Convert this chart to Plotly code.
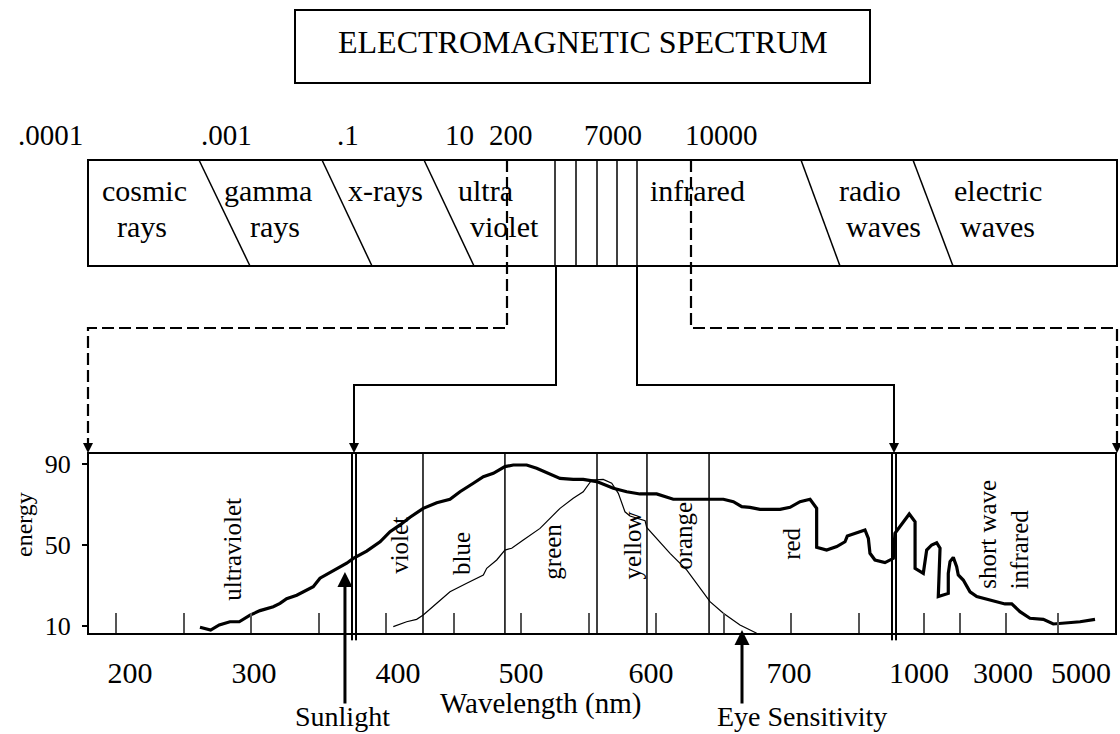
import plotly.graph_objects as go

W, H = 1120, 734
FONT = "Liberation Serif, Times New Roman, serif"

# ---------------- data ----------------
sun_wl = [262.2, 270.1, 276.5, 284.4, 291.3, 299.3, 306.7, 316.5, 321.5, 326.4,
          333.9, 341.3, 346.1, 351.1, 361.0, 370.9, 375.8, 385.7, 395.6, 403.0,
          410.4, 417.8, 427.6, 437.6, 447.4, 454.8, 464.7, 472.1, 479.5, 488.1,
          494.3, 504.2, 511.6, 519.0, 528.9, 538.7, 546.1, 556.1, 568.4, 578.3,
          588.1, 600.5, 612.8, 627.6, 649.9, 657.3, 663.5, 669.6, 677.0, 691.9,
          699.3, 706.7, 714.1, 719.0, 719.0, 726.4, 733.9, 740.0, 741.7, 754.8,
          757.3, 758.5, 762.2, 769.6, 775.8, 777.0, 780.7, 787.6, 791.9, 791.9,
          798.0, 800.5, 804.2, 807.9, 810.4, 809.1, 816.5, 816.5, 817.8, 820.2,
          822.7, 823.9, 827.6, 832.6, 837.6, 845.0, 852.3, 858.5, 863.5, 869.6,
          877.0, 886.9, 894.3, 914.1, 925.2]
sun_energy = [9.4, 8.0, 10.5, 12.1, 12.1, 15.4, 17.6, 19.5, 21.2, 23.5,
              25.2, 27.8, 29.4, 33.6, 37.2, 41.0, 43.4, 47.0, 51.6, 56.6,
              59.9, 63.7, 68.1, 70.9, 72.6, 76.3, 80.5, 83.7, 85.4, 88.7,
              89.5, 89.5, 87.9, 85.9, 82.9, 82.4, 82.4, 81.3, 78.0, 76.3,
              75.2, 75.2, 72.6, 72.6, 72.6, 71.4, 68.9, 68.6, 67.6, 67.6,
              68.6, 71.4, 72.6, 68.1, 48.9, 47.5, 49.2, 51.6, 54.4, 57.4,
              53.3, 45.9, 42.6, 41.3, 43.4, 55.8, 59.0, 65.3, 61.5, 38.5,
              36.0, 47.5, 50.0, 51.1, 48.4, 24.5, 26.1, 36.0, 41.8, 43.9,
              39.3, 35.2, 32.7, 26.9, 24.5, 23.2, 21.7, 20.9, 20.9, 17.1,
              13.8, 13.3, 11.0, 12.1, 13.3]

eye_wl = [405.4, 415.3, 422.7, 427.6, 437.6, 447.4, 459.8, 472.1, 474.6, 482.0,
          488.1, 493.1, 501.7, 514.1, 528.9, 538.7, 546.1, 552.4, 560.9, 567.2,
          572.1, 577.0, 580.7, 591.9, 593.1, 600.5, 610.4, 622.7, 630.1, 640.0,
          649.9, 662.2, 674.6, 685.7]
eye_energy = [9.7, 12.1, 13.3, 15.4, 21.2, 26.9, 31.1, 35.2, 38.5, 42.6,
              47.5, 48.4, 52.5, 58.2, 68.1, 73.1, 76.3, 82.1, 82.4, 80.5,
              75.5, 66.4, 64.3, 62.0, 58.7, 53.3, 45.9, 37.7, 31.1, 22.0,
              16.3, 10.5, 6.4, 3.1]

band_names = ["ultraviolet", "violet", "blue", "green", "yellow", "orange", "red",
              "short wave", "infrared"]
band_label_wl = [285.7, 410.4, 456.1, 523.7, 582.7, 620.7, 700.5, 845.0, 869.1]
band_label_energy = [48.0, 49.6, 45.9, 46.7, 49.6, 54.5, 50.4, 55.4, 48.0]

band_edges = [427.4, 488.1, 556.3, 593.3, 639.3]
double_edges = [374.8, 377.8, 774.8, 777.8]

tick_wl = [200, 250, 300, 350, 400, 450, 500, 550, 600, 650, 700, 750,
           798.5, 825.2, 859.3, 897.8]
label_wl = [210.4, 302.2, 408.9, 500.0, 596.3, 698.5, 794.8, 857.0, 914.8]
label_text = ["200", "300", "400", "500", "600", "700", "1000", "3000", "5000"]
energy_ticks = [10, 50, 90]

sun_arrow = (369.6, 36.7)
eye_arrow = (663.7, 8.0)

scale_labels = [".0001", ".001", ".1", "10", "200", "7000", "10000"]
scale_label_px = [50, 226, 348, 459, 511, 613, 721]
region_words = ["cosmic", "rays", "gamma", "rays", "x-rays", "ultra", "violet",
                "infrared", "radio", "waves", "electric", "waves"]
region_word_px = [(144, 1), (142, 2), (268, 1), (275, 2), (385.5, 1), (485, 1),
                  (504.6, 2), (697.7, 1), (870, 1), (883, 2), (997.8, 1), (997.8, 2)]


def P(x, y):
    return x / W, 1 - y / H


fig = go.Figure()
fig.add_trace(go.Scatter(x=sun_wl, y=sun_energy, mode="lines",
                         line=dict(color="black", width=3.2), showlegend=False,
                         hoverinfo="skip"))
fig.add_trace(go.Scatter(x=eye_wl, y=eye_energy, mode="lines",
                         line=dict(color="black", width=1.2), showlegend=False,
                         hoverinfo="skip"))
fig.add_trace(go.Scatter(x=[], y=[], xaxis="x2", yaxis="y", showlegend=False,
                         hoverinfo="skip"))

shapes = []
ann = []

# plot frame and band lines
for e in band_edges:
    shapes.append(dict(type="line", xref="x", yref="y domain", x0=e, x1=e, y0=0, y1=1,
                       line=dict(color="black", width=1.5)))
for e in double_edges:
    shapes.append(dict(type="line", xref="x", yref="y domain", x0=e, x1=e, y0=-0.035, y1=1,
                       line=dict(color="black", width=2)))
shapes.append(dict(type="rect", xref="x domain", yref="y domain", x0=0, x1=1, y0=0, y1=1,
                   line=dict(color="black", width=2), layer="above"))

# title box
x0, y0 = P(295, 10); x1, y1 = P(870, 83)
shapes.append(dict(type="rect", xref="paper", yref="paper", x0=x0, y0=y0, x1=x1, y1=y1,
                   line=dict(color="black", width=2)))
# spectrum box
x0, y0 = P(88, 160); x1, y1 = P(1117, 266)
shapes.append(dict(type="rect", xref="paper", yref="paper", x0=x0, y0=y0, x1=x1, y1=y1,
                   line=dict(color="black", width=2)))
for (a, b) in [(199, 250), (322, 372), (424, 474), (801, 840), (913, 953)]:
    xa, ya = P(a, 160); xb, yb = P(b, 266)
    shapes.append(dict(type="line", xref="paper", yref="paper", x0=xa, y0=ya, x1=xb, y1=yb,
                       line=dict(color="black", width=1.5)))
for v in [555, 576, 597, 617, 637]:
    xa, ya = P(v, 160); xb, yb = P(v, 266)
    shapes.append(dict(type="line", xref="paper", yref="paper", x0=xa, y0=ya, x1=xb, y1=yb,
                       line=dict(color="black", width=1.5)))


def path(pts):
    s = ""
    for i, (x, y) in enumerate(pts):
        a, b = P(x, y)
        s += ("M" if i == 0 else " L") + f"{a:.5f},{b:.5f}"
    return s


shapes.append(dict(type="path", xref="paper", yref="paper",
                   path=path([(507, 160), (507, 328), (88, 328), (88, 446)]),
                   line=dict(color="black", width=2.2, dash="12px,5px")))
shapes.append(dict(type="path", xref="paper", yref="paper",
                   path=path([(691, 160), (691, 328), (1117, 328), (1117, 446)]),
                   line=dict(color="black", width=2.2, dash="12px,5px")))
shapes.append(dict(type="path", xref="paper", yref="paper",
                   path=path([(556, 266), (556, 385), (354, 385), (354, 446)]),
                   line=dict(color="black", width=2)))
shapes.append(dict(type="path", xref="paper", yref="paper",
                   path=path([(637, 266), (637, 385), (894, 385), (894, 446)]),
                   line=dict(color="black", width=2)))

for hx in [88, 354, 894, 1117]:
    a, b = P(hx, 453)
    ann.append(dict(x=a, y=b, xref="paper", yref="paper", text="", showarrow=True,
                    ax=0, ay=-12, arrowhead=2, arrowsize=1, arrowwidth=2,
                    arrowcolor="black"))


def label(text, xpix, ypix, size, angle=0):
    a, b = P(xpix, ypix)
    return dict(x=a, y=b, xref="paper", yref="paper", text=text, showarrow=False,
                xanchor="center", yanchor="middle", textangle=angle,
                font=dict(family=FONT, size=size, color="black"))


# title
ann.append(label("ELECTROMAGNETIC SPECTRUM", 582.5, 42, 32))
for t, xpix in zip(scale_labels, scale_label_px):
    ann.append(label(t, xpix, 135, 29))
for t, (xpix, line) in zip(region_words, region_word_px):
    ann.append(label(t, xpix, 190.5 if line == 1 else 226.5, 30))

# rotated band labels
for t, xw, ye in zip(band_names, band_label_wl, band_label_energy):
    ann.append(dict(x=xw, y=ye, xref="x", yref="y", text=t, textangle=-90,
                    xanchor="center", yanchor="middle",
                    showarrow=False, font=dict(family=FONT, size=25, color="black")))

# arrows
ann.append(dict(x=sun_arrow[0], y=sun_arrow[1], xref="x", yref="y", text="", showarrow=True,
                ax=0, ay=133, arrowhead=2, arrowsize=1, arrowwidth=3, arrowcolor="black"))
ann.append(dict(x=eye_arrow[0], y=eye_arrow[1], xref="x", yref="y", text="", showarrow=True,
                ax=0, ay=75, arrowhead=2, arrowsize=1, arrowwidth=3, arrowcolor="black"))
ann.append(label("Sunlight", 342, 716, 28))
ann.append(label("Eye Sensitivity", 801.5, 716, 28))
ann.append(label("Wavelength (nm)", 540, 703, 29))
ann.append(label("energy", 24, 525, 24, -90))

fig.update_layout(
    width=W, height=H, template="none",
    margin=dict(l=0, r=0, t=0, b=0, pad=0),
    paper_bgcolor="white", plot_bgcolor="white",
    showlegend=False,
    xaxis=dict(domain=[88 / W, 1116 / W], range=[179.26, 940.74], tickvals=tick_wl,
               ticks="inside", ticklen=21, tickwidth=1.5, tickcolor="#555",
               showticklabels=False, showline=False, showgrid=False, zeroline=False,
               automargin=False),
    xaxis2=dict(overlaying="x", anchor="y", side="bottom", range=[179.26, 940.74],
                domain=[88 / W, 1116 / W], tickvals=label_wl, ticktext=label_text,
                ticks="", showline=False, showgrid=False, zeroline=False,
                ticklabelstandoff=18, automargin=False,
                tickfont=dict(family=FONT, size=30, color="black")),
    yaxis=dict(domain=[(H - 634) / H, (H - 453) / H], range=[6.05, 95.43],
               tickvals=energy_ticks, ticks="outside", ticklen=5, tickwidth=2,
               tickcolor="black", showline=False, showgrid=False, zeroline=False,
               ticklabelstandoff=6, automargin=False,
               tickfont=dict(family=FONT, size=26, color="black")),
    shapes=shapes, annotations=ann,
)

fig.write_html("out.html", config={"displayModeBar": False},
               post_script="document.body.style.margin='0px';")
